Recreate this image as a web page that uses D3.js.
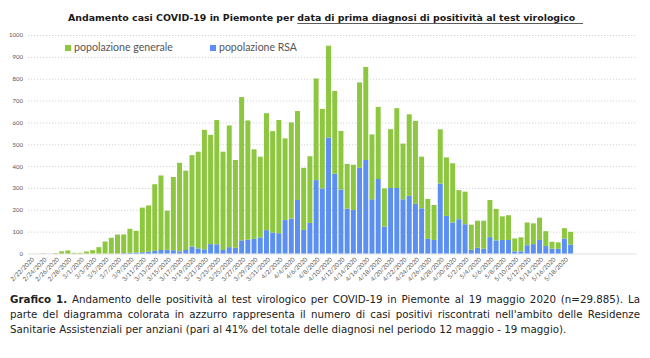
<!DOCTYPE html>
<html><head><meta charset="utf-8">
<script src="https://cdn.jsdelivr.net/npm/d3@7"></script>
<style>body{margin:0;background:#fff}svg{display:block}</style>
</head><body><svg id="c" width="650" height="358"></svg>
<script>
const dates=["2/22/2020","2/23/2020","2/24/2020","2/25/2020","2/26/2020","2/27/2020","2/28/2020","2/29/2020",
"3/1/2020","3/2/2020","3/3/2020","3/4/2020","3/5/2020","3/6/2020","3/7/2020","3/8/2020","3/9/2020","3/10/2020","3/11/2020","3/12/2020","3/13/2020","3/14/2020","3/15/2020","3/16/2020","3/17/2020","3/18/2020","3/19/2020","3/20/2020","3/21/2020","3/22/2020","3/23/2020","3/24/2020","3/25/2020","3/26/2020","3/27/2020","3/28/2020","3/29/2020","3/30/2020","3/31/2020",
"4/1/2020","4/2/2020","4/3/2020","4/4/2020","4/5/2020","4/6/2020","4/7/2020","4/8/2020","4/9/2020","4/10/2020","4/11/2020","4/12/2020","4/13/2020","4/14/2020","4/15/2020","4/16/2020","4/17/2020","4/18/2020","4/19/2020","4/20/2020","4/21/2020","4/22/2020","4/23/2020","4/24/2020","4/25/2020","4/26/2020","4/27/2020","4/28/2020","4/29/2020","4/30/2020",
"5/1/2020","5/2/2020","5/3/2020","5/4/2020","5/5/2020","5/6/2020","5/7/2020","5/8/2020","5/9/2020","5/10/2020","5/11/2020","5/12/2020","5/13/2020","5/14/2020","5/15/2020","5/16/2020","5/17/2020","5/18/2020","5/19/2020"];
const generale=[0,0,1,0,2,10,14,3,3,9,15,29,55,72,87,85,110,100,204,212,305,341,179,335,405,363,418,443,547,500,569,450,557,402,656,546,410,369,535,464,518,374,440,407,284,305,465,364,420,379,268,205,207,391,426,297,330,175,269,365,255,373,380,236,183,160,248,268,271,133,149,115,124,128,170,144,108,113,59,64,104,95,102,68,32,29,48,58];
const rsa=[0,0,0,0,0,0,0,0,0,0,0,0,0,0,0,2,3,4,6,8,12,16,17,15,10,16,32,23,19,43,42,16,29,26,60,63,67,74,107,96,93,153,160,245,108,140,336,298,531,365,293,205,199,392,428,248,341,123,300,300,248,264,227,207,67,62,320,172,142,157,134,17,26,22,75,60,62,62,10,10,38,43,62,34,22,22,68,41];
const yTicks=[0,100,200,300,400,500,600,700,800,900,1000];
const xTickLabels=dates.filter((d,i)=>i%2===0);
const seriesKeys=["rsa","generale"];
const seriesNames={generale:"popolazione generale",rsa:"popolazione RSA"};
const colors={generale:"#8dc63f",rsa:"#5b8ff0"};
const titleA="Andamento casi COVID-19 in Piemonte per ";
const titleB="data di prima diagnosi di positività al test virologico";
const captionLines=[
 "Grafico 1. Andamento delle positività al test virologico per COVID-19 in Piemonte al 19 maggio 2020 (n=29.885). La",
 "parte del diagramma colorata in azzurro rappresenta il numero di casi positivi riscontrati nell'ambito delle Residenze",
 "Sanitarie Assistenziali per anziani (pari al 41% del totale delle diagnosi nel periodo 12 maggio - 19 maggio)."
];

const FONT="Lato, 'Open Sans', sans-serif";
const FONT2="'DejaVu Sans', sans-serif";
const svg=d3.select("#c");
const rows=dates.map((d,i)=>({date:d,generale:generale[i],rsa:rsa[i]}));
const x=d3.scaleBand().domain(dates).range([27.5,573.7]).paddingInner(0.2).paddingOuter(0.1);
const y=d3.scaleLinear().domain([0,1000]).range([253.5,35]);
const gridRight=637, gridLeft=28;

function fit(sel,w){const n=sel.node();const fs=parseFloat(sel.attr("font-size"));const l=n.getComputedTextLength();sel.attr("font-size",fs*w/l);}

// Title
const title=svg.append("text").attr("x",68).attr("y",21).attr("font-family",FONT2).attr("font-weight","bold").attr("font-size",11).attr("fill","#1a1a1a");
const tA=title.append("tspan").text(titleA);
const tB=title.append("tspan").text(titleB);
fit(title,508);
const wA=tA.node().getComputedTextLength();
svg.append("line").attr("x1",68+wA).attr("x2",583).attr("y1",23.5).attr("y2",23.5).attr("stroke","#333").attr("stroke-width",0.8);

// Grid + y axis
const yAxis=svg.append("g").attr("transform",`translate(${gridLeft},0)`)
 .call(d3.axisLeft(y).tickValues(yTicks).tickFormat(d3.format("d")).tickSize(-(gridRight-gridLeft)).tickPadding(5));
yAxis.select(".domain").remove();
yAxis.selectAll(".tick line").attr("stroke","#c8c8c8").attr("stroke-width",0.8).attr("stroke-dasharray","1.2,1.8");
yAxis.selectAll(".tick").filter(d=>d===0).select("line").attr("stroke","#d9d9d9").attr("stroke-dasharray",null);
yAxis.selectAll("text").attr("font-family",FONT).attr("font-size",6).attr("fill","#555");

// Bars
const stack=d3.stack().keys(seriesKeys)(rows);
svg.append("g").selectAll("g").data(stack).join("g").attr("fill",d=>colors[d.key])
 .selectAll("rect").data(d=>d).join("rect")
 .attr("x",d=>x(d.data.date)).attr("width",x.bandwidth())
 .attr("y",d=>y(d[1])).attr("height",d=>Math.max(0,y(d[0])-y(d[1])));

// X axis labels
const xAxis=svg.append("g").attr("transform",`translate(0,${y(0)})`)
 .call(d3.axisBottom(x).tickValues(xTickLabels).tickSize(0).tickPadding(0));
xAxis.select(".domain").remove();
xAxis.selectAll("text").attr("font-family",FONT).attr("font-size",6.2).attr("fill","#555")
 .attr("text-anchor","end").attr("dy","0.35em").attr("y",0)
 .attr("transform","translate(2.5,5) rotate(-45)");

// Legend
const leg=[["generale",65,74,99],["rsa",210,219,78]];
leg.forEach(([k,sx,tx,w])=>{
 svg.append("rect").attr("x",sx).attr("y",45).attr("width",6).attr("height",6).attr("fill",colors[k]);
 const t=svg.append("text").attr("x",tx).attr("y",51).attr("font-family",FONT).attr("font-size",9.5).attr("fill","#555").text(seriesNames[k]);
 fit(t,w);
});

// Caption
const capY=[303,318,333];
const L=10,R=640;
function natW(s,fs,bold){const t=svg.append("text").attr("font-family",FONT2).attr("font-size",fs).attr("font-weight",bold?"bold":"normal").text(s);const w=t.node().getComputedTextLength();t.remove();return w;}
let fsCap=10*557/natW(captionLines[2],10);
const maxNat=Math.max(natW(captionLines[0],fsCap),natW(captionLines[1],fsCap));
if(maxNat>R-L-4) fsCap*= (R-L-4)/maxNat;
const spaceW=natW("a a",fsCap)-natW("aa",fsCap);
captionLines.forEach((line,li)=>{
 const words=line.split(" ");
 const g=svg.append("g");
 const els=words.map((w,wi)=>g.append("text").attr("y",capY[li]).attr("font-family",FONT2).attr("font-size",fsCap).attr("fill","#222")
   .attr("font-weight",(li===0&&wi<2)?"bold":"normal").text(w));
 const widths=els.map(e=>e.node().getComputedTextLength());
 const sum=d3.sum(widths);
 const gap= li<2 ? (R-L-sum)/(words.length-1) : spaceW;
 let cx=L;
 els.forEach((e,i)=>{e.attr("x",cx);cx+=widths[i]+gap;});
});
</script></body></html>
